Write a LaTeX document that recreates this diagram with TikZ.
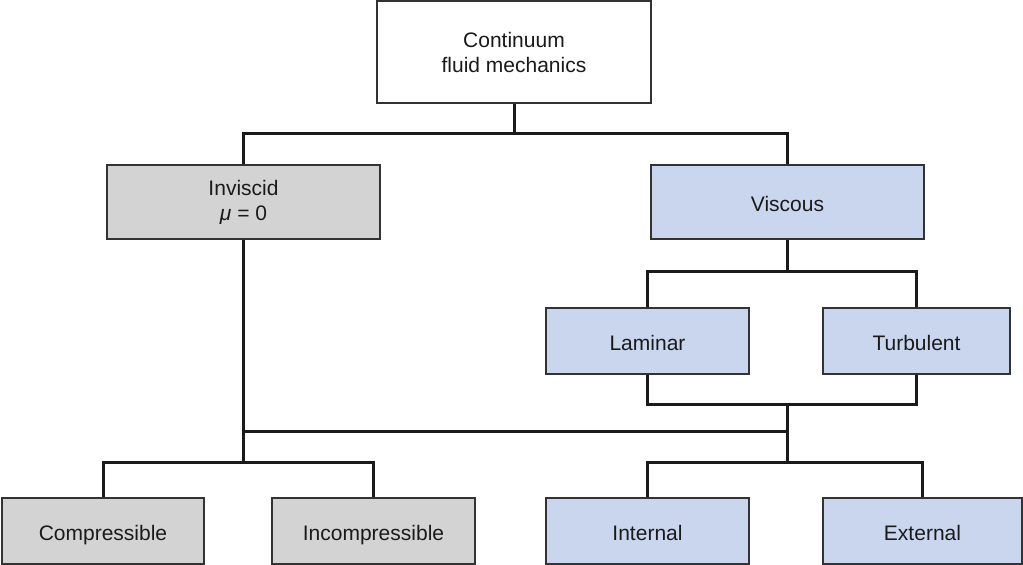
\documentclass[tikz,border=0pt]{standalone}
\usepackage{fontspec}
\setmainfont{Liberation Sans}
\usetikzlibrary{positioning}
\definecolor{ink}{HTML}{1A1A1A}
\definecolor{edge}{HTML}{333333}
\definecolor{grayfill}{HTML}{D3D3D3}
\definecolor{bluefill}{HTML}{C9D6EE}
\tikzset{
  every node/.style={font=\fontsize{21}{25}\selectfont, text=ink},
  box/.style={draw=edge, line width=1.5pt, align=center, inner sep=0pt, fill=white},
  oneline/.style={text height=19pt, text depth=0pt},
  inviscidbox/.style={box, fill=grayfill},
  viscousbox/.style={box, oneline, fill=bluefill},
  link/.style={draw=ink, line width=3pt},
}
\begin{document}
\begin{tikzpicture}[x=1pt, y=-1pt]
  \useasboundingbox (0,0) rectangle (1023,565);
  % ---- top: root ------------------------------------------------------------
  \node[box, minimum width=274pt, minimum height=102pt] (cont) at (514,52) {Continuum\\fluid mechanics};

  % ---- second row ---------------------------------------------------------
  \node[inviscidbox, minimum width=273pt, minimum height=74pt] (invis) at (243.5,202) {Inviscid\\{\itshape μ} = 0};
  \node[viscousbox, minimum width=273pt, minimum height=74pt] (visc) at (787.5,202) {Viscous};

  % ---- third row: flow regime ---------------------------------------------
  \node[viscousbox, minimum width=203pt, minimum height=66pt] (lam) at (647.5,341) {Laminar};
  \node[viscousbox, minimum width=187pt, minimum height=66pt] (turb) at (916.5,341) {Turbulent};

  % ---- bottom row -----------------------------------------------------------
  \node[inviscidbox, oneline, minimum width=202pt, minimum height=66pt] (comp) at (103,531) {Compressible};
  \node[inviscidbox, oneline, minimum width=203pt, minimum height=66pt] (incomp) at (373.5,531) {Incompressible};
  \node[viscousbox, minimum width=203pt, minimum height=66pt] (inter) at (647.5,531) {Internal};
  \node[viscousbox, minimum width=199pt, minimum height=66pt] (exter) at (922.5,531) {External};

  % junctions
  \coordinate (split1) at (cont.south |- 0,133);
  \coordinate (split2) at (visc.south |- 0,271);
  \coordinate (merge) at (visc.south |- 0,404);
  \coordinate (join) at (visc.south |- 0,431);
  \coordinate (split3) at (invis.south |- 0,462);
  \coordinate (split4) at (visc.south |- 0,462);

  \draw[link] (cont.south) -- (split1);
  \draw[link] (invis.north) |- (split1) -| (visc.north);
  \draw[link] (visc.south) -- (split2);
  \draw[link] (lam.north) |- (split2) -| (turb.north);
  \draw[link] (lam.south) |- (merge);
  \draw[link] (turb.south) |- (merge);
  \draw[link] (merge) -- (split4);
  \draw[link] (invis.south) -- (split3);
  \draw[link] (invis.south |- join) -- (join);
  \draw[link] (comp.north) |- (split3) -| (incomp.north);
  \draw[link] (inter.north) |- (split4) -| (exter.north);
\end{tikzpicture}
\end{document}
